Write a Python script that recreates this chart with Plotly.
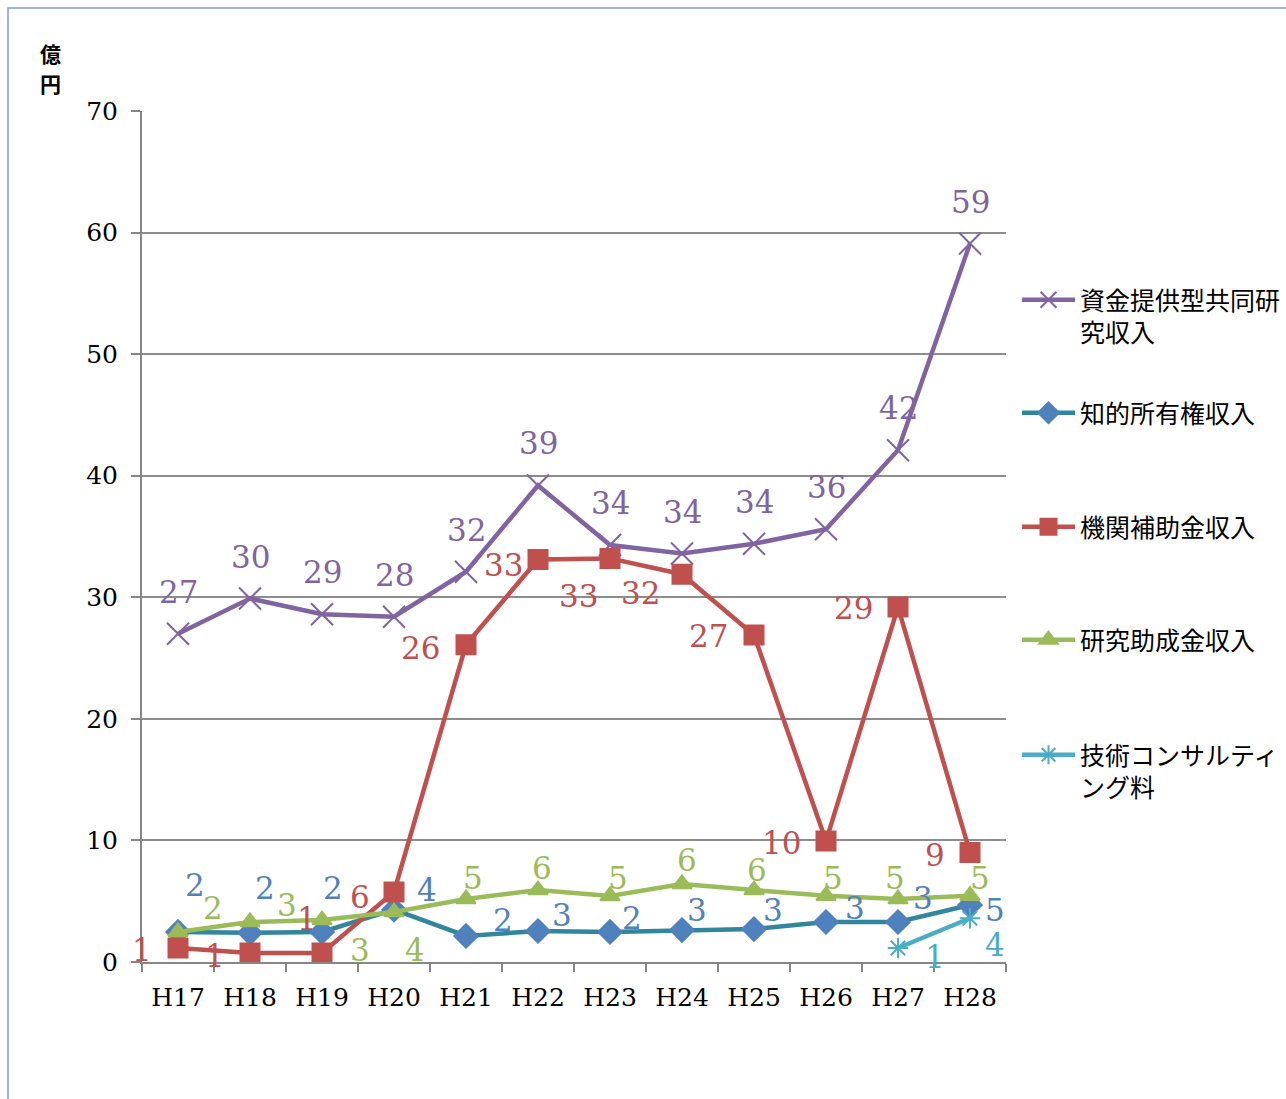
import plotly.graph_objects as go

# データ (億円)
years = ["H17", "H18", "H19", "H20", "H21", "H22", "H23", "H24", "H25", "H26", "H27", "H28"]
joint_research = [27.0, 29.9, 28.6, 28.4, 32.1, 39.2, 34.3, 33.6, 34.4, 35.6, 42.1, 59.1]
ip_income = [2.47, 2.40, 2.47, 4.30, 2.14, 2.55, 2.47, 2.63, 2.71, 3.29, 3.29, 4.69]
subsidy = [1.15, 0.75, 0.75, 5.76, 26.1, 33.1, 33.2, 31.9, 26.9, 9.95, 29.2, 9.0]
grant = [2.47, 3.29, 3.45, 4.11, 5.18, 5.92, 5.43, 6.42, 5.92, 5.45, 5.18, 5.45]
consulting = [None] * 10 + [1.15, 3.6]

names = ["資金提供型共同研<br>究収入", "知的所有権収入", "機関補助金収入",
         "研究助成金収入", "技術コンサルティ<br>ング料"]
unit_chars = ["億", "円"]

# スタイル: 線色, マーカー色, 記号, サイズ, ラベル色, ラベルのずらし (dx, dy px)
series = [
    dict(y=joint_research, line="#8064A2", mcolor="#8064A2", symbol="x-thin-open", size=22,
         label="#8064A2",
         off=[(0, -42)] * 12),
    dict(y=ip_income, line="#31859C", mcolor="#4F81BD", symbol="diamond", size=18,
         label="#4F81BD",
         off=[(17, -47), (15, -45), (11, -44), (33, -20), (37, -16), (24, -16),
              (22, -14), (15, -20), (19, -19), (29, -14), (25, -24), (25, 5)]),
    dict(y=subsidy, line="#C0504D", mcolor="#C0504D", symbol="square", size=19,
         label="#C0504D",
         off=[(-36, 2), (-35, 3), (-15, -34), (-34, 5), (-46, 3), (-35, 5),
              (-32, 38), (-42, 19), (-46, 1), (-45, 2), (-45, 1), (-35, 2)]),
    dict(y=grant, line="#9BBB59", mcolor="#9BBB59", symbol="triangle-up", size=17,
         label="#9BBB59",
         off=[(35, -24), (37, -17), (38, 30), (21, 38), (7, -21), (4, -22),
              (8, -18), (5, -24), (3, -20), (7, -18), (-3, -21), (10, -18)]),
    dict(y=consulting, line="#4BACC6", mcolor="#4BACC6", symbol="asterisk-open", size=17,
         label="#4BACC6",
         off=[(0, 0)] * 10 + [(37, 9), (25, 27)]),
]

# 凡例の位置 (各項目の1行目の中心, px)
legend_rows = [300, 413, 527, 640, 755]
unit_rows = [53, 83]
fig_h = 1099
plot_top, plot_bottom, plot_left, plot_right = 111, 962, 142, 1006
plot_h = plot_bottom - plot_top
plot_w = plot_right - plot_left

fig = go.Figure()
annotations = []
legends = {}
for i, s in enumerate(series):
    lg = "legend" if i == 0 else f"legend{i + 1}"
    fig.add_trace(go.Scatter(
        x=years, y=s["y"], name=names[i], mode="lines+markers",
        line=dict(color=s["line"], width=4.5),
        marker=dict(symbol=s["symbol"], size=s["size"], color=s["mcolor"],
                    line=dict(color=s["mcolor"], width=2)),
        legend=lg, connectgaps=False,
    ))
    for x, v, (dx, dy) in zip(years, s["y"], s["off"]):
        if v is None:
            continue
        annotations.append(dict(
            x=x, y=v, text=f"{v:.0f}", showarrow=False,
            xshift=dx, yshift=-dy,
            font=dict(family="DejaVu Serif", size=31, color=s["label"]),
        ))
    legends[lg] = dict(
        x=(1017 - plot_left) / plot_w, xanchor="left",
        y=(plot_bottom - (legend_rows[i] - 23)) / plot_h, yanchor="top",
        font=dict(family="Noto Sans CJK JP", size=25, color="#000000"),
        bgcolor="rgba(0,0,0,0)", itemwidth=53, valign="top",
    )

# 単位 (縦書き)
for ch, row in zip(unit_chars, unit_rows):
    annotations.append(dict(
        x=(50 - plot_left) / plot_w, y=(plot_bottom - row) / plot_h,
        xref="paper", yref="paper", xanchor="center", yanchor="middle",
        text=f"<b>{ch}</b>", showarrow=False, borderpad=0,
        font=dict(family="Noto Sans CJK JP", size=21, color="#000000"),
    ))

fig.update_layout(
    width=1286, height=fig_h,
    margin=dict(l=plot_left, r=1286 - plot_right, t=plot_top, b=fig_h - plot_bottom,
                autoexpand=False),
    plot_bgcolor="white", paper_bgcolor="white",
    showlegend=True,
    annotations=annotations,
    xaxis=dict(
        type="category", range=[-0.5, 11.5], showgrid=False,
        showline=True, linecolor="#868686", linewidth=2,
        ticks="outside", tickson="boundaries", ticklen=8, tickcolor="#868686", tickwidth=1.5,
        tickfont=dict(family="DejaVu Serif", size=25, color="#000000"),
        ticklabelstandoff=12,
    ),
    yaxis=dict(
        range=[0, 70], dtick=10, showgrid=True, gridcolor="#8c8c8c", gridwidth=1.5,
        showline=True, linecolor="#868686", linewidth=2, zeroline=False,
        ticks="outside", ticklen=9, tickcolor="#868686", tickwidth=1.5,
        tickfont=dict(family="DejaVu Serif", size=25, color="#000000"),
        ticklabelstandoff=8,
    ),
    shapes=[dict(
        type="rect", xref="paper", yref="paper",
        x0=(8 - plot_left) / plot_w, x1=2, y0=-1, y1=(plot_bottom - 8) / plot_h,
        line=dict(color="#7F9DD1", width=1.5), layer="below",
    )],
    **legends,
)

fig.write_html("out.html", config={"displayModeBar": False},
               post_script="document.body.style.margin = '0';")
